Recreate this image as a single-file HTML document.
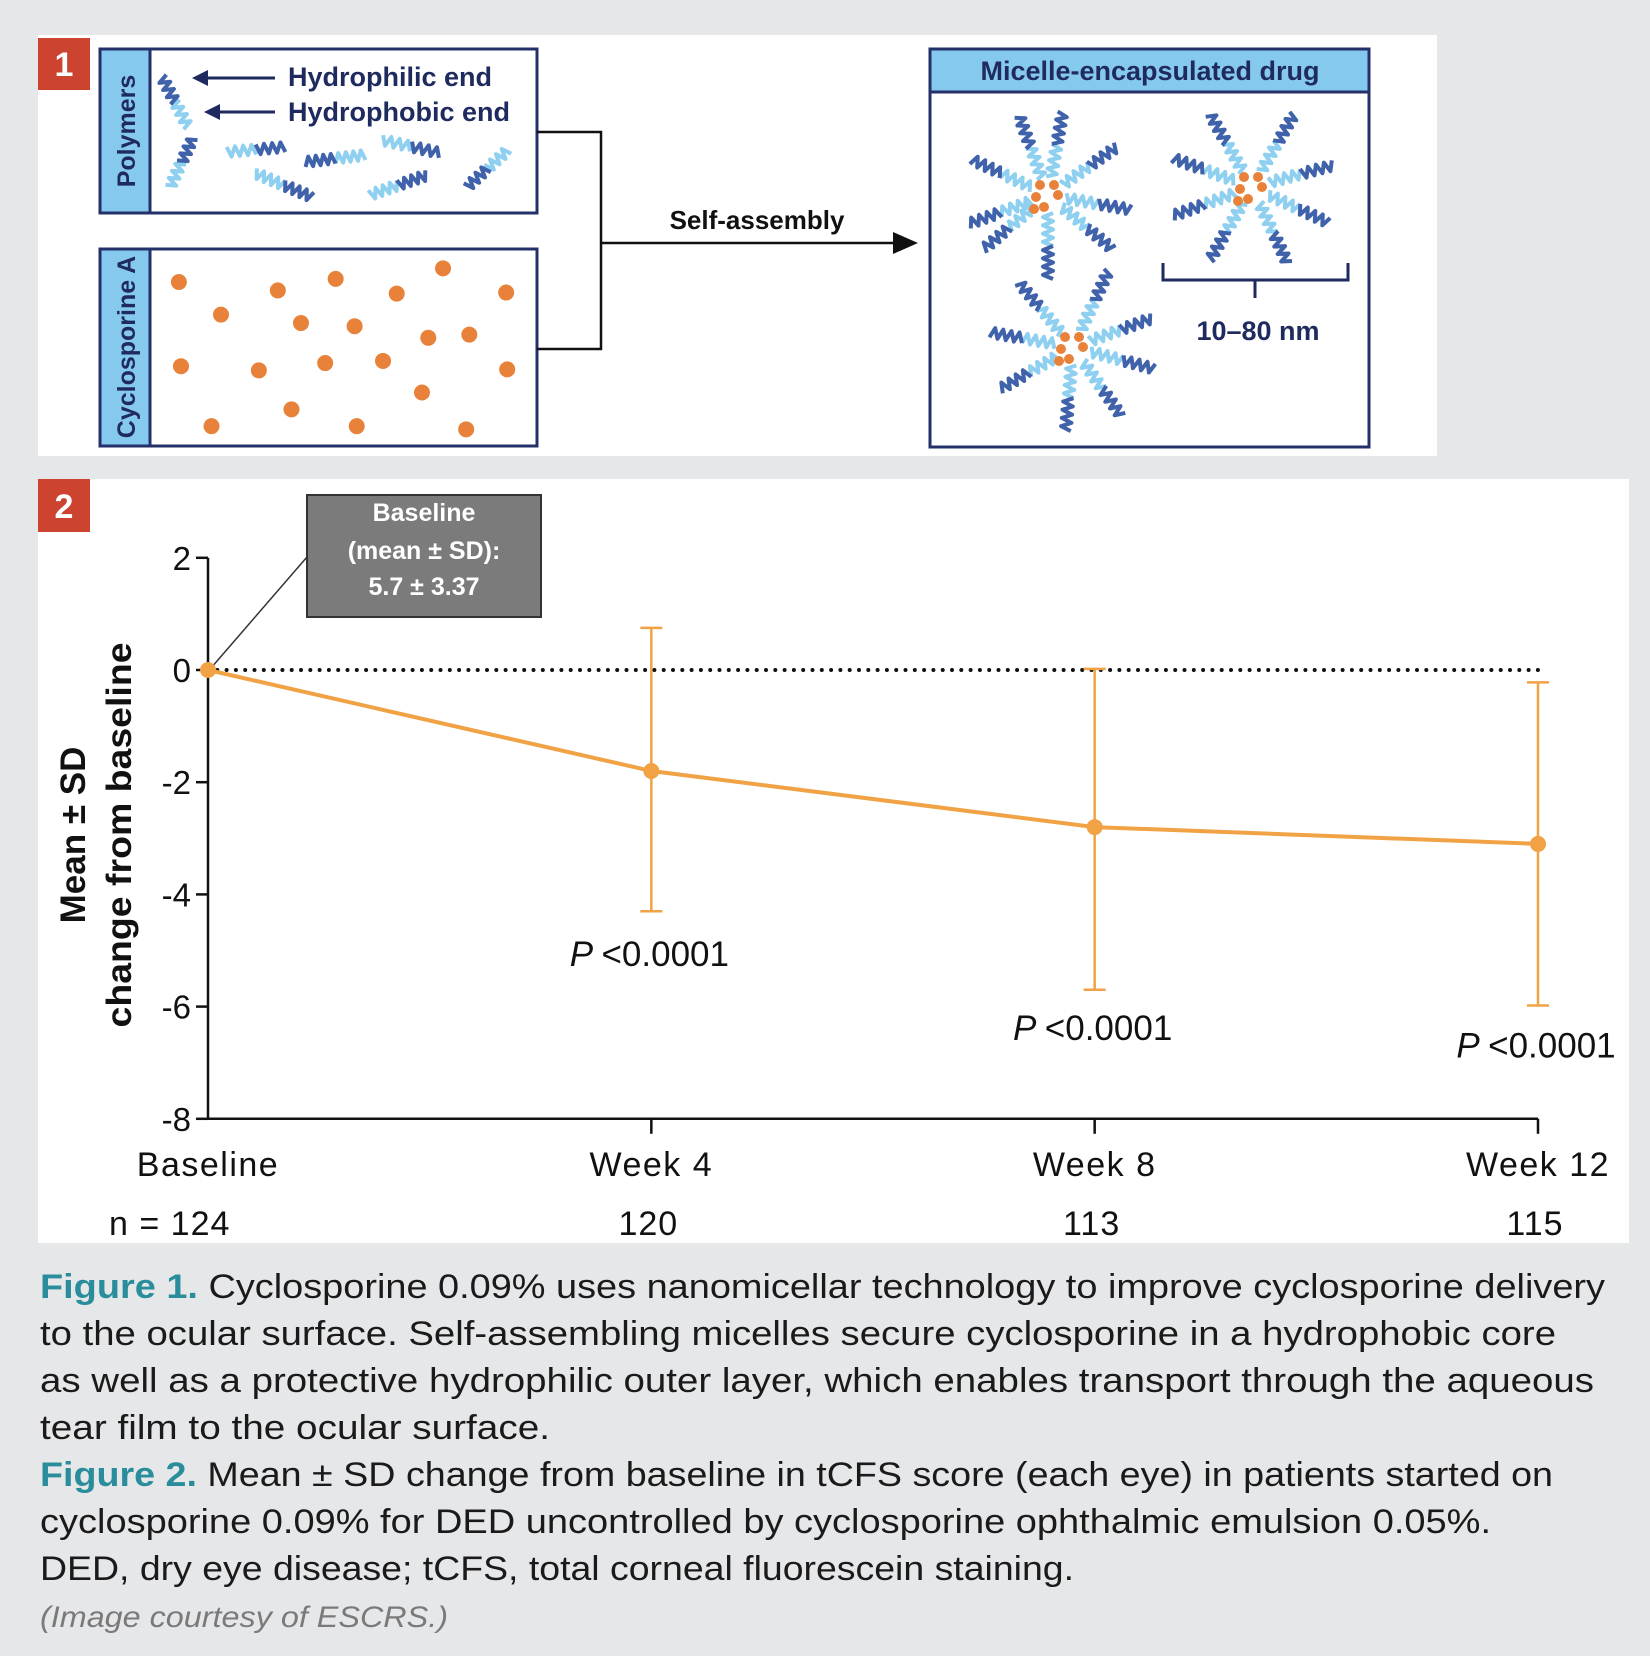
<!DOCTYPE html>
<html><head><meta charset="utf-8"><style>
html,body{margin:0;padding:0;background:#e6e7e9;}
svg{display:block;font-family:"Liberation Sans",sans-serif;}
</style></head><body>
<svg id="s" width="1650" height="1656" viewBox="0 0 1650 1656" xmlns="http://www.w3.org/2000/svg">
<rect x="0" y="0" width="1650" height="1656" fill="#e6e7e9"/>
<g>
<rect x="38" y="35" width="1399" height="421" fill="#fff"/>
<rect x="38" y="38" width="52" height="52" fill="#cc4430"/>
<text x="64" y="76" font-size="34" font-weight="bold" fill="#fff" text-anchor="middle">1</text>
<g>
<rect x="100" y="49" width="437" height="164" fill="#fff" stroke="#23306a" stroke-width="3"/>
<rect x="100" y="49" width="50" height="164" fill="#86c9ee" stroke="#23306a" stroke-width="3"/>
<text transform="translate(135,131) rotate(-90)" font-size="25" font-weight="bold" fill="#1f2a5e" text-anchor="middle">Polymers</text>
<g id="poly"></g>
<line x1="206" y1="78" x2="275" y2="78" stroke="#1f2a5e" stroke-width="3"/><polygon points="192,78 208,70 208,86" fill="#1f2a5e"/>
<line x1="218" y1="112" x2="275" y2="112" stroke="#1f2a5e" stroke-width="3"/><polygon points="204,112 220,104 220,120" fill="#1f2a5e"/>
<text x="288" y="86" font-size="27" font-weight="bold" fill="#1f2a5e">Hydrophilic end</text>
<text x="288" y="121" font-size="27" font-weight="bold" fill="#1f2a5e">Hydrophobic end</text>
</g>
<g>
<rect x="100" y="249" width="437" height="197" fill="#fff" stroke="#23306a" stroke-width="3"/>
<rect x="100" y="249" width="50" height="197" fill="#86c9ee" stroke="#23306a" stroke-width="3"/>
<text transform="translate(135,347) rotate(-90)" font-size="25" font-weight="bold" fill="#1f2a5e" text-anchor="middle">Cyclosporine A</text>
<g id="dots"></g>
</g>
<polyline points="537,132 601,132 601,349 537,349" fill="none" stroke="#111" stroke-width="2.5"/>
<line x1="601" y1="243" x2="895" y2="243" stroke="#111" stroke-width="2.5"/>
<polygon points="918,243 893,232 893,254" fill="#111"/>
<text x="757" y="229" font-size="26" font-weight="bold" fill="#111" text-anchor="middle">Self-assembly</text>
<g>
<rect x="930" y="49" width="439" height="398" fill="#fff" stroke="#23306a" stroke-width="3"/>
<rect x="930" y="49" width="439" height="43" fill="#86c9ee" stroke="#23306a" stroke-width="3"/>
<text x="1150" y="80" font-size="27" font-weight="bold" fill="#1f2a5e" text-anchor="middle">Micelle-encapsulated drug</text>
<g id="mic"></g>
<polyline points="1163,263 1163,280 1348,280 1348,263" fill="none" stroke="#1f2a5e" stroke-width="3"/>
<line x1="1255" y1="280" x2="1255" y2="298" stroke="#1f2a5e" stroke-width="3"/>
<text x="1258" y="340" font-size="27" font-weight="bold" fill="#1f2a5e" text-anchor="middle">10–80 nm</text>
</g>
</g>
<g>
<rect x="38" y="479" width="1591" height="764" fill="#fff"/>
<rect x="38" y="479" width="52" height="53" fill="#cc4430"/>
<text x="64" y="518" font-size="34" font-weight="bold" fill="#fff" text-anchor="middle">2</text>
<g id="chart"></g>
<rect x="307" y="495" width="234" height="122" fill="#7b7b7b" stroke="#333" stroke-width="2"/>
<text x="424" y="521" font-size="25" font-weight="bold" fill="#fff" text-anchor="middle">Baseline</text>
<text x="424" y="559" font-size="25" font-weight="bold" fill="#fff" text-anchor="middle">(mean ± SD):</text>
<text x="424" y="595" font-size="25" font-weight="bold" fill="#fff" text-anchor="middle">5.7 ± 3.37</text>
<g>
<text transform="translate(85,835) rotate(-90)" font-size="35" font-weight="bold" fill="#111" text-anchor="middle">Mean ± SD</text>
<text transform="translate(131,835) rotate(-90)" font-size="35" font-weight="bold" fill="#111" text-anchor="middle" textLength="385" lengthAdjust="spacingAndGlyphs">change from baseline</text>
</g>
</g>
<g font-size="34" fill="#1a1a1a">
<text x="40" y="1298" textLength="1565" lengthAdjust="spacingAndGlyphs"><tspan font-weight="bold" fill="#2a8d9c">Figure 1.</tspan> Cyclosporine 0.09% uses nanomicellar technology to improve cyclosporine delivery</text>
<text x="40" y="1345" textLength="1516" lengthAdjust="spacingAndGlyphs">to the ocular surface. Self-assembling micelles secure cyclosporine in a hydrophobic core</text>
<text x="40" y="1392" textLength="1554" lengthAdjust="spacingAndGlyphs">as well as a protective hydrophilic outer layer, which enables transport through the aqueous</text>
<text x="40" y="1439" textLength="510" lengthAdjust="spacingAndGlyphs">tear film to the ocular surface.</text>
<text x="40" y="1486" textLength="1513" lengthAdjust="spacingAndGlyphs"><tspan font-weight="bold" fill="#2a8d9c">Figure 2.</tspan> Mean ± SD change from baseline in tCFS score (each eye) in patients started on</text>
<text x="40" y="1533" textLength="1451" lengthAdjust="spacingAndGlyphs">cyclosporine 0.09% for DED uncontrolled by cyclosporine ophthalmic emulsion 0.05%.</text>
<text x="40" y="1580" textLength="1034" lengthAdjust="spacingAndGlyphs">DED, dry eye disease; tCFS, total corneal fluorescein staining.</text>
<text x="40" y="1627" font-size="30" font-style="italic" fill="#7a7a7a" textLength="408" lengthAdjust="spacingAndGlyphs">(Image courtesy of ESCRS.)</text>
</g>
</svg>
<script>
const categories=["Baseline","Week 4","Week 8","Week 12"];
const nCounts=["124","120","113","115"];
const means=[0,-1.8,-2.8,-3.1];
const upper=[0,0.75,0.02,-0.22];
const lower=[0,-4.3,-5.7,-5.98];
const yTicks=[2,0,-2,-4,-6,-8];
const pLabels=["","<0.0001","<0.0001","<0.0001"];

const NS="http://www.w3.org/2000/svg";
function mk(tag,attrs,parent){const e=document.createElementNS(NS,tag);for(const k in attrs)e.setAttribute(k,attrs[k]);parent.appendChild(e);return e;}
const chart=document.getElementById('chart');
const X0=208,X1=1538;
function xs(i){return X0+(X1-X0)*i/(categories.length-1);}
function ys(v){return 670-v*56.1;}
let ax=mk('line',{x1:X0,y1:ys(2),x2:X0,y2:ys(-8)+1,stroke:'#111','stroke-width':2.5},chart);


let xa=mk('line',{x1:X0-1,y1:ys(-8),x2:xs(3),y2:ys(-8),stroke:'#111','stroke-width':2.5},chart);


yTicks.forEach(v=>{
  mk('line',{x1:X0-12,y1:ys(v),x2:X0,y2:ys(v),stroke:'#111','stroke-width':2.5},chart);
  const t=mk('text',{x:X0-17,y:ys(v)+12,'font-size':33,'text-anchor':'end',fill:'#111'},chart);
  t.textContent=v;
  
  
});
categories.forEach((c,i)=>{
  if(i>0)mk('line',{x1:xs(i),y1:ys(-8),x2:xs(i),y2:ys(-8)+15,stroke:'#111','stroke-width':2.5},chart);
  const t=mk('text',{x:xs(i),y:1176,'font-size':34,'text-anchor':'middle',fill:'#111','letter-spacing':'1.5'},chart);
  t.textContent=c;
  
  
  const n=mk('text',{x:i===0?109:xs(i)-3,y:1235,'font-size':34,'text-anchor':i===0?'start':'middle',fill:'#111','letter-spacing':'1'},chart);
  n.textContent=(i===0?"n =  ":"")+nCounts[i];
  
  
});
let ref=mk('line',{x1:X0,y1:ys(0),x2:xs(3),y2:ys(0),stroke:'#111','stroke-width':4,'stroke-dasharray':'0 9.3','stroke-linecap':'round'},chart);


mk('line',{x1:X0+3,y1:ys(0)-2,x2:307,y2:557,stroke:'#333','stroke-width':1.5},chart);
const orange='#f0a244';
means.forEach((m,i)=>{
  if(i===0)return;
  const g=mk('g',{},chart);
  
  
  mk('line',{x1:xs(i),y1:ys(upper[i]),x2:xs(i),y2:ys(lower[i]),stroke:orange,'stroke-width':2.5},g);
  mk('line',{x1:xs(i)-11,y1:ys(upper[i]),x2:xs(i)+11,y2:ys(upper[i]),stroke:orange,'stroke-width':2.5},g);
  mk('line',{x1:xs(i)-11,y1:ys(lower[i]),x2:xs(i)+11,y2:ys(lower[i]),stroke:orange,'stroke-width':2.5},g);
});
const line=mk('polyline',{points:means.map((m,i)=>xs(i)+','+ys(m)).join(' '),fill:'none',stroke:orange,'stroke-width':4},chart);


means.forEach((m,i)=>{
  const c=mk('circle',{cx:xs(i),cy:ys(m),r:8,fill:orange},chart);
  
  
  if(pLabels[i]){
    const t=mk('text',{x:xs(i)-2,y:ys(lower[i])+(i===1?55:(i===2?50:52)),'font-size':35,'text-anchor':'middle',fill:'#111'},chart);
    const a=mk('tspan',{'font-style':'italic'},t);a.textContent='P ';
    const b=mk('tspan',{},t);b.textContent=pLabels[i];
    
    
  }
});
function zig(g,x1,y1,x2,y2,col){
  const dx=x2-x1,dy=y2-y1,L=Math.hypot(dx,dy),ux=dx/L,uy=dy/L,px=-uy,py=ux;
  const n=Math.max(2,Math.round(L/4));let pts=[];
  for(let k=0;k<=n;k++){const s=k/n*L,a=(k%2?5:-5);pts.push((x1+ux*s+px*a).toFixed(1)+','+(y1+uy*s+py*a).toFixed(1));}
  mk('polyline',{points:pts.join(' '),fill:'none',stroke:col,'stroke-width':4,'stroke-linejoin':'round'},g);
}
const LIGHT='#8fd0f0',DARK='#3f62aa';
function chain(g,lx,ly,dx,dy){const mx=(lx+dx)/2,my=(ly+dy)/2;zig(g,lx,ly,mx,my,LIGHT);zig(g,mx,my,dx,dy,DARK);}
const poly=document.getElementById('poly');
[[188,127,162,77],[170,187,193,138],[227,152,285,147],[365,155,305,162],[382,140,440,153],[255,173,312,197],[370,195,427,175],[508,150,467,187]].forEach(c=>chain(poly,...c));
const mic=document.getElementById('mic');
[[1048,195,[-80,-35,10,40,90,140,160,205,250]],[1252,187,[-60,-15,25,65,120,160,200,240]],[1073,347,[-65,-20,15,55,95,150,190,230]]].forEach(([cx,cy,angs])=>{
  angs.forEach(a=>{const r=a*Math.PI/180;chain(mic,cx+Math.cos(r)*18,cy+Math.sin(r)*18,cx+Math.cos(r)*84,cy+Math.sin(r)*84);});
  [[-8,-10],[6,-10],[-12,2],[10,0],[-4,12],[-14,14]].forEach(([ox,oy])=>mk('circle',{cx:cx+ox,cy:cy+oy,r:5,fill:'#e8823a'},mic));
});
const dots=document.getElementById('dots');
[[170,268],[210,299],[264,276],[319,265],[377,279],[421,255],[481,278],[286,307],[337,310],[407,321],[446,318],[172,348],[246,352],[309,345],[364,343],[482,351],[277,389],[401,373],[201,405],[339,405],[443,408]].forEach(([x,y])=>mk('circle',{cx:x*1.0523,cy:y*1.0523,r:8,fill:'#e8823a'},dots));
</script>
</body></html>
